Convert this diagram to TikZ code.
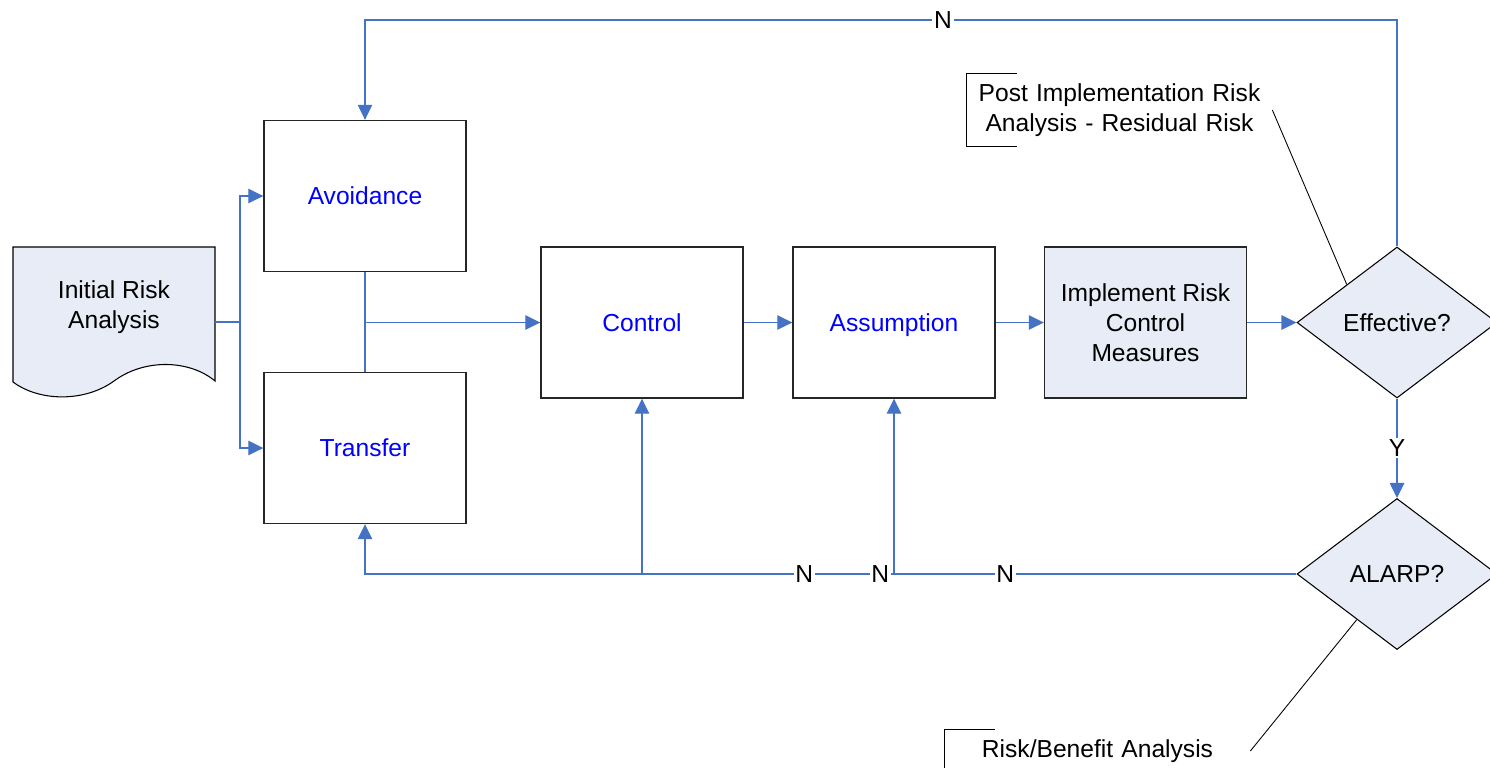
\documentclass[tikz,border=0pt]{standalone}
\usepackage{fontspec}
\setmainfont{Liberation Sans}
\usetikzlibrary{shapes.geometric, arrows.meta, positioning, calc}
\definecolor{colorLine}{RGB}{68, 114, 196}
\definecolor{colorFill}{RGB}{231, 236, 247}
\definecolor{colorStep}{RGB}{0, 0, 255}
\tikzstyle{process} = [rectangle, minimum width=40.4mm, minimum height=30.2mm, text centered, align=center, draw=black!85, line width=0.8pt, fill=white, text=colorStep]
\tikzstyle{decision} = [diamond, aspect=1.33, inner sep=0pt, minimum width=40mm, minimum height=30.2mm, text centered, draw=black, line width=0.6pt, fill=colorFill]
\tikzstyle{note} = [rectangle, text width=57mm, align=center, inner sep=2mm]
\tikzstyle{link} = [draw=colorLine, line width=0.6pt]
\tikzstyle{arrow} = [link, -{Triangle[length=3mm, width=2.9mm]}]
\tikzstyle{yesno} = [fill=white, inner sep=1pt]

\begin{document}
\begin{tikzpicture}[x=0.2mm, y=-0.2mm, every node/.style={font=\fontsize{14pt}{17pt}\selectfont}]

	\useasboundingbox (0,0) rectangle (1490,767);

	% document shape
	\filldraw[fill=colorFill, draw=black, line width=0.6pt] (13,247) -- (215,247) -- (215,381)
		.. controls (190,360) and (145,358) .. (114,381)
		.. controls (85,402) and (40,402) .. (13,382) -- cycle;
	\node (doc)[rectangle, minimum width=40.4mm, text centered, align=center] at (114,307) {Initial Risk\\Analysis};

	% boxes
	\node (avoid)[process] at (365,196) {Avoidance};
	\node (transfer)[process] at (365,448) {Transfer};
	\node (ctrl)[process] at (642,322.5) {Control};
	\node (assume)[process, text depth=0pt] at (894,322.5) {Assumption};
	\node (impl)[process, fill=colorFill, text=black] at (1145.5,322.5) {Implement Risk\\Control\\Measures};

	\node (eff)[decision] at (1397,322.5) {Effective?};
	\node (alarp)[decision] at (1397,574) {ALARP?};

	% notes
	\node (postNote)[note, minimum height=14.2mm] at (1119.5,110) {Post Implementation Risk\\Analysis - Residual Risk};
	\node (riskNote)[note, minimum height=8mm] at (1097.5,751) {Risk/Benefit Analysis};

	\draw[black, line width=0.5pt] ([xshift=10mm]postNote.north west) -- (postNote.north west) -- (postNote.south west) -- ++(10mm,0);
	\draw[black, line width=0.5pt] ([xshift=10mm]riskNote.north west) -- (riskNote.north west) -- (riskNote.south west);
	\draw[black, line width=0.5pt] (postNote.east) -- ($(eff.west)!0.5!(eff.north)$);
	\draw[black, line width=0.5pt] (riskNote.east) -- ($(alarp.west)!0.6!(alarp.south)$);

	% fork points
	\coordinate (fork) at (240,322);
	\coordinate (loopTop) at (0,20);

	% lines and arrows
	\draw[link] (doc.east |- fork) -- (fork);
	\draw[arrow] (fork) |- (avoid.west);
	\draw[arrow] (fork) |- (transfer.west);

	\draw[link] (avoid.south) -- (transfer.north);
	\draw[arrow] (avoid.south |- ctrl.west) -- (ctrl.west);
	\draw[arrow] (ctrl) -- (assume);
	\draw[arrow] (assume) -- (impl);
	\draw[arrow] (impl) -- (eff);

	\draw[arrow] (eff.south) -- node[yesno]{Y} (alarp.north);
	\draw[arrow] (eff.north) -- (eff.north |- loopTop) -- node[yesno, pos=0.44]{N} (avoid.north |- loopTop) -- (avoid.north);

	\draw[arrow] (ctrl.south |- alarp.west) -- (ctrl.south);
	\draw[arrow] (assume.south |- alarp.west) -- (assume.south);
	\draw[arrow] (alarp.west) -- node[yesno, pos=0.3126]{N} node[yesno, pos=0.4468]{N} node[yesno, pos=0.5285]{N} (transfer.south |- alarp.west) -- (transfer.south);

\end{tikzpicture}
\end{document}
